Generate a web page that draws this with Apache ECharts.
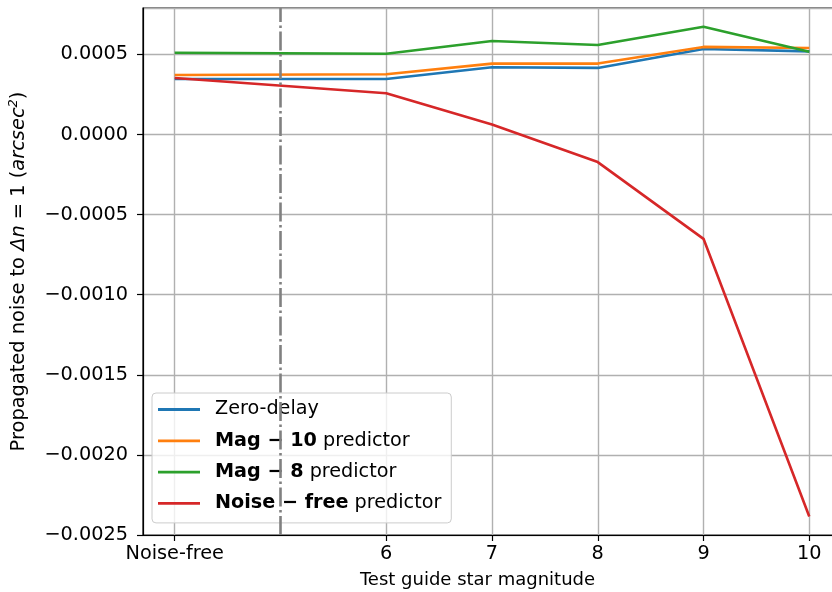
<!DOCTYPE html>
<html>
<head>
<meta charset="utf-8">
<script src="https://cdn.jsdelivr.net/npm/echarts@6/dist/echarts.min.js"></script>
<style>
html,body{margin:0;padding:0;background:#fff;}
#chart{width:832px;height:592px;}
</style>
</head>
<body>
<div id="chart"></div>
<script>
// x positions (Noise-free placed at 4) and tick labels
const xValues = [4, 6, 7, 8, 9, 10];
const xTickLabels = ['Noise-free', '6', '7', '8', '9', '10'];
const dividerX = 5;

const seriesNames = ['Zero-delay', 'Mag-10 predictor', 'Mag-8 predictor', 'Noise-free predictor'];
const legendBold = ['', 'Mag − 10', 'Mag − 8', 'Noise − free'];
const legendPlain = ['Zero-delay', 'predictor', 'predictor', 'predictor'];
const colors = ['#1f77b4', '#ff7f0e', '#2ca02c', '#d62728'];

const zeroDelay  = [0.000347, 0.000347, 0.000420, 0.000416, 0.000534, 0.000519];
const mag10      = [0.000372, 0.000376, 0.000443, 0.000443, 0.000547, 0.000540];
const mag8       = [0.000511, 0.000504, 0.000584, 0.000559, 0.000673, 0.000517];
const noiseFree  = [0.000353, 0.000258, 0.000063, -0.000172, -0.000651, -0.002385];
const allSeries = [zeroDelay, mag10, mag8, noiseFree];

const yMin = -0.0025, yMax = 0.00079, yInterval = 0.0005;
const xMin = 3.7, xMax = 10.3;

const FONT = 'DejaVu Sans';
const FS_TICK = 19.3;
const FS_LEG = 19.2;
const FS_XNAME = 18;
const FS_YNAME = 19.4;

const chart = echarts.init(document.getElementById('chart'), null, {renderer: 'canvas'});

const series = allSeries.map((vals, i) => ({
  name: seriesNames[i],
  type: 'line',
  data: vals.map((v, k) => [xValues[k], v]),
  showSymbol: false,
  symbol: 'none',
  lineStyle: {color: colors[i], width: 2.6},
  itemStyle: {color: colors[i]},
  z: 3,
  animation: false
}));

// dash-dot vertical divider
series.push({
  name: '_divider',
  type: 'line',
  data: [],
  z: 2,
  silent: true,
  animation: false,
  markLine: {
    silent: true,
    symbol: ['none', 'none'],
    label: {show: false},
    animation: false,
    lineStyle: {color: '#808080', width: 2.6, type: [19, 3.5, 2.5, 3.5]},
    data: [[{coord: [dividerX, yMin]}, {coord: [dividerX, yMax]}]]
  }
});

const option = {
  backgroundColor: '#fff',
  animation: false,
  grid: {left: 143, right: -9, top: 8, bottom: 57, show: true, borderColor: '#000', borderWidth: 1.2, outerBoundsMode: 'none'},
  xAxis: {
    type: 'value',
    min: xMin, max: xMax,
    name: 'Test guide star magnitude',
    nameLocation: 'middle',
    nameGap: 36,
    nameTextStyle: {fontFamily: FONT, fontSize: FS_XNAME, color: '#000', padding: [0, 29, 0, 0]},
    axisLine: {show: true, onZero: false, lineStyle: {color: '#000', width: 1.2}},
    axisTick: {show: true, length: 6, lineStyle: {color: '#000', width: 1.2}, customValues: xValues},
    axisLabel: {
      fontFamily: FONT, fontSize: FS_TICK, color: '#000', margin: 9,
      customValues: xValues,
      formatter: v => { const k = xValues.indexOf(v); return k >= 0 ? xTickLabels[k] : ''; }
    },
    splitLine: {show: true, lineStyle: {color: '#b0b0b0', width: 1.4}}
  },
  yAxis: {
    type: 'value',
    min: yMin, max: yMax, interval: yInterval,
    name: 'Propagated noise to {i|Δn} = 1 ({i|arcsec}{sup|2})',
    nameLocation: 'middle',
    nameRotate: 90,
    nameGap: 112,
    nameTextStyle: {
      fontFamily: FONT, fontSize: FS_YNAME, color: '#000',
      rich: {
        i: {fontFamily: FONT, fontSize: FS_YNAME, fontStyle: 'italic', color: '#000'},
        sup: {fontFamily: FONT, fontSize: 13, fontStyle: 'italic', color: '#000', padding: [0, 0, 11, 0]}
      }
    },
    axisLine: {show: true, lineStyle: {color: '#000', width: 1.2}},
    axisTick: {show: true, length: 6, lineStyle: {color: '#000', width: 1.2}},
    axisLabel: {
      fontFamily: FONT, fontSize: FS_TICK, color: '#000', margin: 15,
      showMaxLabel: false,
      formatter: v => (v < -1e-12 ? '\u2212' : '') + Math.abs(v).toFixed(4)
    },
    splitLine: {show: true, lineStyle: {color: '#b0b0b0', width: 1.4}}
  },
  legend: {
    show: true,
    orient: 'vertical',
    left: 152, top: 393,
    data: seriesNames,
    icon: 'rect',
    itemWidth: 42, itemHeight: 2.8,
    itemGap: 10.3,
    padding: [6, 10, 9, 6],
    backgroundColor: 'rgba(255,255,255,0.8)',
    borderColor: '#cccccc', borderWidth: 1, borderRadius: 4,
    formatter: name => {
      const k = seriesNames.indexOf(name);
      let s = '{s|}';
      if (legendBold[k]) s += '{b|' + legendBold[k] + '} ';
      s += '{n|' + legendPlain[k] + '}';
      return s;
    },
    textStyle: {
      fontFamily: FONT, fontSize: FS_LEG, color: '#000', lineHeight: 21,
      rich: {
        s: {width: 10},
        b: {fontFamily: FONT, fontSize: FS_LEG, fontWeight: 'bold', color: '#000', lineHeight: 21},
        n: {fontFamily: FONT, fontSize: FS_LEG, color: '#000', lineHeight: 21}
      }
    }
  },
  series: series
};
chart.setOption(option);
</script>
</body>
</html>
